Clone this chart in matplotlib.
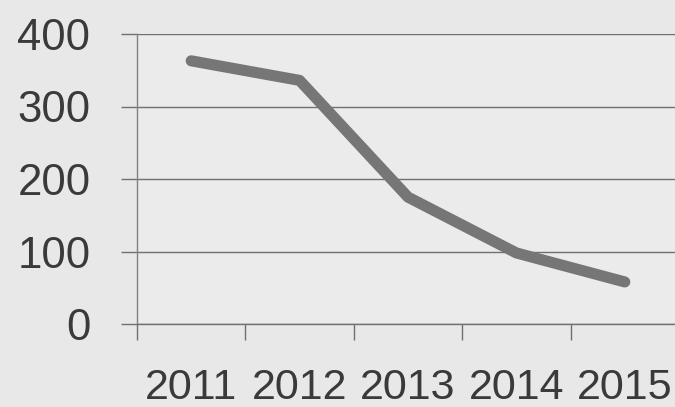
import matplotlib
matplotlib.use("Agg")
import matplotlib.pyplot as plt
from matplotlib.ticker import FixedLocator

years = ["2011", "2012", "2013", "2014", "2015"]
values = [363, 336, 175, 98, 58]
y_ticks = [0, 100, 200, 300, 400]

plt.rcParams['font.family'] = ['Liberation Sans', 'DejaVu Sans']

fig = plt.figure(figsize=(6.75, 4.07), dpi=100, facecolor="#e8e8e8")
ax = fig.add_axes([137/675, 1-324/407, 542/675, 290/407])
ax.set_facecolor("#ebebeb")

x = list(range(len(years)))
ax.plot(x, values, color="#767676", linewidth=8, solid_capstyle="round",
        solid_joinstyle="round", zorder=3)

ax.set_xlim(-0.5, len(years) - 0.5)
ax.set_ylim(0, 400)
ax.set_yticks(y_ticks)
ax.set_yticklabels([str(v) for v in y_ticks])
ax.set_xticks(x)
ax.set_xticklabels(years)
ax.xaxis.set_minor_locator(FixedLocator([i - 0.5 for i in range(len(years) + 1)]))

ax.grid(axis="y", color="#707070", linewidth=1.0, zorder=1)
for s in ["top", "right"]:
    ax.spines[s].set_visible(False)
ax.spines["left"].set_color("#808080")
ax.spines["bottom"].set_color("#707070")
ax.spines["left"].set_linewidth(1.0)
ax.spines["bottom"].set_linewidth(1.0)

ax.tick_params(axis="y", length=11.5, width=1.0, color="#707070", pad=22,
               labelsize=31.5, labelcolor="#3a3a3a")
ax.tick_params(axis="x", which="major", length=0, pad=32,
               labelsize=31, labelcolor="#3a3a3a")
ax.tick_params(axis="x", which="minor", length=11.5, width=1.0, color="#707070")

fig.savefig("out.png", dpi=100, facecolor=fig.get_facecolor())
